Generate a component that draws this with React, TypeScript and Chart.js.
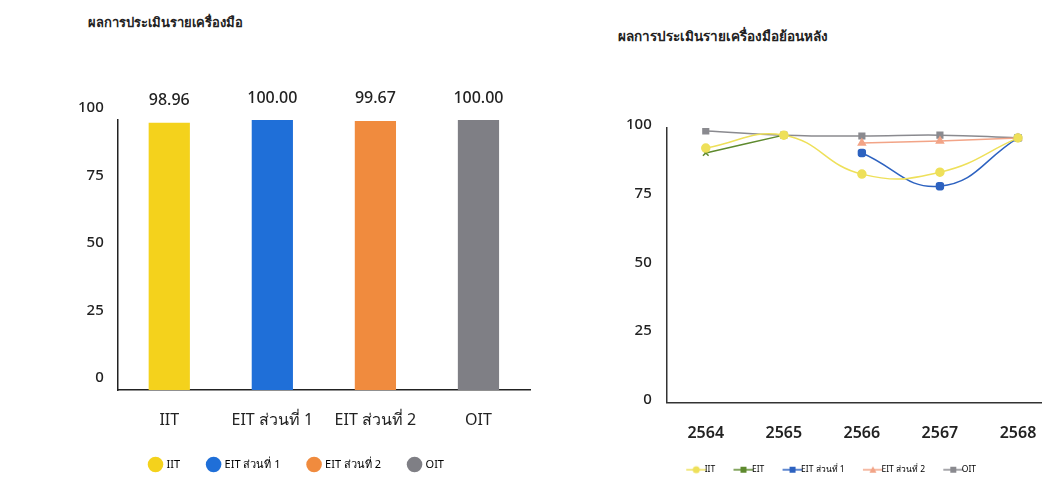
import React, { useEffect, useRef } from "react";
import { Chart, registerables } from "chart.js";

Chart.register(...registerables);

const barTitle = "ผลการประเมินรายเครื่องมือ";
const barCategories = ["IIT", "EIT ส่วนที่ 1", "EIT ส่วนที่ 2", "OIT"];
const barValues = [98.96, 100.0, 99.67, 100.0];
const barLabels = ["98.96", "100.00", "99.67", "100.00"];
const barColors = ["#F4D21C", "#1F6FD8", "#F08B3E", "#7F7F85"];

const lineTitle = "ผลการประเมินรายเครื่องมือย้อนหลัง";
const years = ["2564", "2565", "2566", "2567", "2568"];
const iitSeries = [92.7, 97.4, 83.2, 83.9, 96.4];
const eitSeries = [90.9, 97.4, null, null, null];
const eit1Series = [null, null, 90.9, 78.8, 96.4];
const eit2Series = [null, null, 94.5, 95.3, 96.4];
const oitSeries = [98.9, 97.4, 97.1, 97.4, 96.4];
const lineNames = ["IIT", "EIT", "EIT ส่วนที่ 1", "EIT ส่วนที่ 2", "OIT"];
const lineColors = ["#EEE05A", "#5E8A2E", "#2D62C0", "#F2A487", "#8A8A8F"];
const lineStyles = ["circle", "crossRot", "rectRounded", "triangle", "rect"];

const FONT = "'Noto Sans', 'DejaVu Sans', sans-serif";

const valueLabelPlugin = {
  id: "valueLabels",
  afterDatasetsDraw(chart: any) {
    const ctx = chart.ctx;
    const meta = chart.getDatasetMeta(0);
    ctx.save();
    ctx.font = `500 16px ${FONT}`;
    ctx.fillStyle = "#222";
    ctx.textAlign = "center";
    ctx.textBaseline = "middle";
    meta.data.forEach((bar: any, i: number) => {
      ctx.fillText(barLabels[i], bar.x, bar.y - 22);
    });
    ctx.restore();
  },
};

function makeLegendIcon(color: string, style: string) {
  const c = document.createElement("canvas");
  c.width = 22;
  c.height = 10;
  const g = c.getContext("2d")!;
  g.strokeStyle = color;
  g.lineWidth = 1.5;
  g.beginPath();
  g.moveTo(1, 5);
  g.lineTo(21, 5);
  g.stroke();
  g.fillStyle = color;
  g.beginPath();
  if (style === "triangle") {
    g.moveTo(11, 1.5);
    g.lineTo(14.5, 8);
    g.lineTo(7.5, 8);
    g.closePath();
  } else if (style === "circle") {
    g.arc(11, 5, 3.5, 0, Math.PI * 2);
  } else {
    g.rect(8, 2, 6, 6);
  }
  g.fill();
  return c;
}

function BarChart() {
  const ref = useRef<HTMLCanvasElement>(null);
  useEffect(() => {
    const chart = new Chart(ref.current!, {
      type: "bar",
      data: {
        labels: barCategories,
        datasets: [
          {
            data: barValues,
            backgroundColor: barColors,
            barPercentage: 0.4,
            categoryPercentage: 1,
          },
        ],
      },
      options: {
        animation: false,
        responsive: false,
        layout: { padding: { top: 120, left: 40, right: 39, bottom: 0 } },
        plugins: {
          legend: {
            position: "bottom",
            labels: {
              usePointStyle: true,
              pointStyle: "circle",
              boxWidth: 12,
              boxHeight: 11,
              padding: 28,
              color: "#333",
              font: { family: FONT, size: 11 },
              generateLabels: () =>
                barCategories.map((name, i) => ({
                  text: name,
                  fillStyle: barColors[i],
                  strokeStyle: barColors[i],
                  lineWidth: 0,
                  pointStyle: "circle",
                  hidden: false,
                  index: i,
                })),
            },
          },
          tooltip: { enabled: false },
        },
        scales: {
          x: {
            grid: { display: false, drawTicks: false },
            border: { display: true, color: "#222", width: 1.5 },
            afterFit: (axis: any) => {
              axis.height = 41;
            },
            ticks: {
              color: "#222",
              padding: 21,
              font: { family: FONT, size: 16 },
            },
          },
          y: {
            min: 0,
            max: 100,
            grid: { display: false, drawTicks: false },
            border: { display: true, color: "#222", width: 1.5 },
            ticks: {
              stepSize: 25,
              color: "#222",
              padding: 14,
              labelOffset: -12,
              font: { family: FONT, size: 15, weight: 500 },
            },
          },
        },
      },
      plugins: [valueLabelPlugin],
    } as any);
    return () => chart.destroy();
  }, []);
  return <canvas ref={ref} width={545} height={480} style={{ width: 545, height: 480 }} />;
}

function LineChart() {
  const ref = useRef<HTMLCanvasElement>(null);
  useEffect(() => {
    const series = [iitSeries, eitSeries, eit1Series, eit2Series, oitSeries];
    const chart = new Chart(ref.current!, {
      type: "line",
      data: {
        labels: years,
        datasets: series.map((s, i) => ({
          label: lineNames[i],
          data: s,
          borderColor: lineColors[i],
          backgroundColor: lineColors[i],
          borderWidth: 1.5,
          pointStyle: lineStyles[i],
          pointRadius: 4,
          tension: 0.45,
          spanGaps: false,
        })),
      },
      options: {
        animation: false,
        responsive: false,
        layout: { padding: { top: 128, left: 51, right: 23, bottom: -4 } },
        plugins: {
          legend: {
            position: "bottom",
            labels: {
              usePointStyle: true,
              padding: 24,
              color: "#444",
              font: { family: FONT, size: 8.5 },
              generateLabels: () =>
                lineNames.map((name, i) => ({
                  text: name,
                  fillStyle: lineColors[i],
                  strokeStyle: lineColors[i],
                  lineWidth: 0,
                  pointStyle: makeLegendIcon(lineColors[i], lineStyles[i]),
                  hidden: false,
                  datasetIndex: i,
                })),
            },
          },
          tooltip: { enabled: false },
        },
        scales: {
          x: {
            offset: true,
            grid: { display: false, drawTicks: false },
            border: { display: true, color: "#333", width: 1.5 },
            afterFit: (axis: any) => {
              axis.height = 39;
            },
            ticks: {
              color: "#222",
              padding: 21,
              font: { family: FONT, size: 16, weight: 600 },
            },
          },
          y: {
            min: 0,
            max: 100,
            grid: { display: false, drawTicks: false },
            border: { display: true, color: "#333", width: 1.5 },
            ticks: {
              stepSize: 25,
              color: "#222",
              padding: 15,
              labelOffset: -3,
              font: { family: FONT, size: 15, weight: 500 },
            },
          },
        },
      },
    } as any);
    return () => chart.destroy();
  }, []);
  return <canvas ref={ref} width={520} height={480} style={{ width: 520, height: 480 }} />;
}

export default function App() {
  return (
    <div
      style={{
        position: "fixed",
        left: 0,
        top: 0,
        width: 1042,
        height: 480,
        overflow: "hidden",
        background: "#fff",
        fontFamily: FONT,
      }}
    >
      <div style={{ position: "absolute", left: 88, top: 12, fontSize: 13, fontWeight: 700, color: "#222", whiteSpace: "nowrap" }}>
        {barTitle}
      </div>
      <div style={{ position: "absolute", left: 618, top: 25, fontSize: 13.5, fontWeight: 700, color: "#222", whiteSpace: "nowrap" }}>
        {lineTitle}
      </div>
      <div style={{ position: "absolute", left: 24, top: 0 }}>
        <BarChart />
      </div>
      <div style={{ position: "absolute", left: 560, top: 0 }}>
        <LineChart />
      </div>
    </div>
  );
}
